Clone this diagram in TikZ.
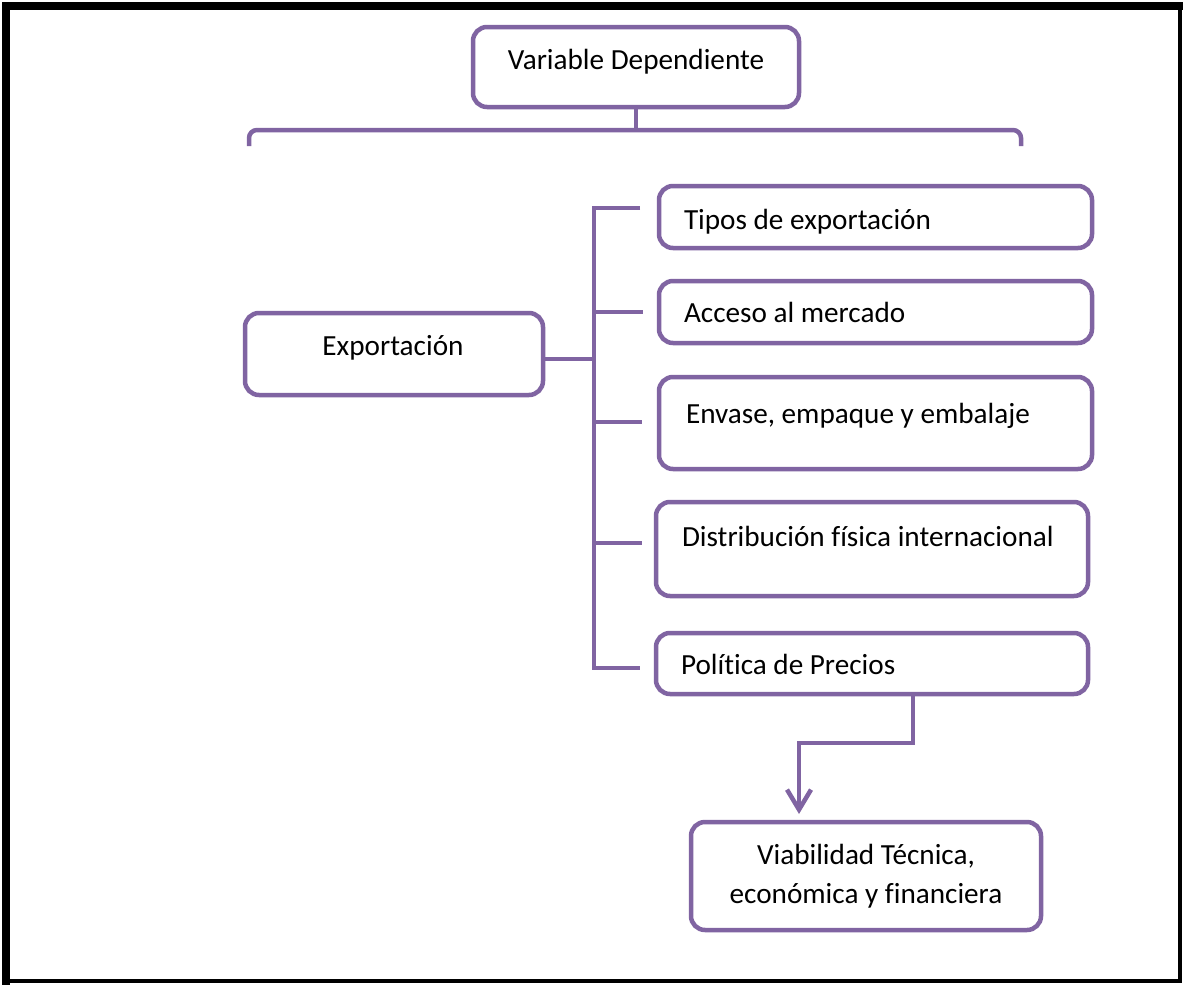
\documentclass[tikz,border=0pt]{standalone}
\usepackage{fontspec}
\setmainfont{Carlito}[Ligatures=NoCommon]
\usetikzlibrary{arrows.meta}
\definecolor{purp}{HTML}{8064A2}
\tikzset{
  box/.style={draw=purp, line width=4.5pt, rounded corners=14pt, fill=white, inner sep=0pt, outer sep=0pt},
  conn/.style={draw=purp, line width=4.5pt},
  txt/.style={inner sep=0pt, outer sep=0pt, font=\fontsize{29.2}{39}\selectfont, text=black},
}
\begin{document}
\begin{tikzpicture}[x=1pt, y=-1pt]
\useasboundingbox (0,0) rectangle (1183,985);
% frame
\fill[white] (0,0) rectangle (1183,985);
\draw[line width=8pt, line cap=rect] (6,981) -- (6,6) -- (1180,6);
\draw[line width=3.5pt, line cap=rect] (1180,6) -- (1180,981) -- (6,981);

% boxes
\node[box, minimum width=326pt, minimum height=80pt] (top) at (636,67) {};
\node[box, minimum width=298pt, minimum height=82pt] (exp) at (394,354) {};
\node[box, minimum width=433pt, minimum height=62pt] (t1) at (875.5,217) {};
\node[box, minimum width=433pt, minimum height=62pt] (t2) at (875.5,312) {};
\node[box, minimum width=433pt, minimum height=92pt] (t3) at (875.5,423) {};
\node[box, minimum width=432pt, minimum height=94pt] (t4) at (872,549) {};
\node[box, minimum width=432pt, minimum height=61pt] (t5) at (872,663.5) {};
\node[box, txt, draw=purp, align=center, minimum width=350pt, minimum height=108pt] (via) at (866,876) {Viabilidad Técnica,\\económica y financiera};

% texts
\node[txt, anchor=base] (ltop) at (636,69) {Variable Dependiente};
\node[txt, anchor=base] (lexp) at (393,355) {Exportación};
\node[txt, anchor=base west] (l1) at (684,229) {Tipos de exportación};
\node[txt, anchor=base west] (l2) at (684,322) {Acceso al mercado};
\node[txt, anchor=base west] (l3) at (686,423) {Envase, empaque y embalaje};
\node[txt, anchor=base west] (l4) at (682,546) {Distribución física internacional};
\node[txt, anchor=base west] (l5) at (681,674) {Política de Precios};

% brace under top box
\coordinate (bl) at (249,146);
\coordinate (br) at (1021,146);
\coordinate (bm) at (top.south |- 0,130);
\draw[conn, rounded corners=8pt] (bl) -- (249,130) -- (1021,130) -- (br);
\draw[conn] (top.south) -- (bm);

% tree
\coordinate (trtop) at (594,208);
\coordinate (trbot) at (594,668);
\coordinate (e1) at (640,208);
\coordinate (e2) at (643,312);
\coordinate (e3) at (642,422);
\coordinate (e4) at (642,543);
\coordinate (e5) at (640,668);
\draw[conn] (e1) -- (trtop) -- (trbot) -- (e5);
\draw[conn] (trtop |- e2) -- (e2);
\draw[conn] (trtop |- e3) -- (e3);
\draw[conn] (trtop |- e4) -- (e4);
\draw[conn] (exp.east |- 0,359) -- (594,359);

% arrow
\draw[conn, -{Straight Barb[length=20pt, width=24pt]}] (913,696) -- (913,743) -- (799,743) -- (799,814);
\end{tikzpicture}
\end{document}
